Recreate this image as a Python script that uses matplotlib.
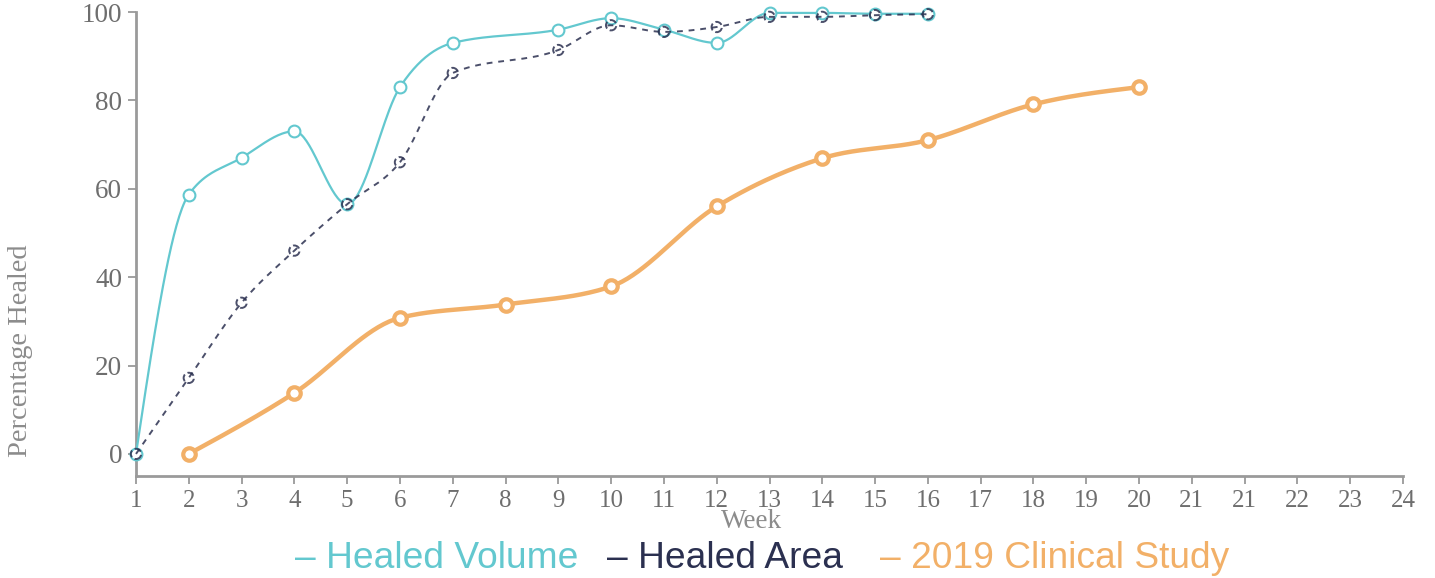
import numpy as np
import matplotlib
matplotlib.use("Agg")
import matplotlib.pyplot as plt

# tick labels along the x axis (the source repeats "21")
week_labels = ["1", "2", "3", "4", "5", "6", "7", "8", "9", "10", "11", "12", "13",
               "14", "15", "16", "17", "18", "19", "20", "21", "21", "22", "23", "24"]

volume_weeks = [1, 2, 3, 4, 5, 6, 7, 9, 10, 11, 12, 13, 14, 15, 16]
volume_vals = [0, 58.7, 67, 73, 56.5, 83, 93, 96, 98.6, 96, 93, 99.8, 99.8, 99.6, 99.6]

area_weeks = [1, 2, 3, 4, 5, 6, 7, 9, 10, 11, 12, 13, 14, 15, 16]
area_vals = [0, 17.2, 34.2, 46, 56.5, 66, 86.2, 91.4, 97, 95.5, 96.6, 98.9, 98.9, 99.3, 99.5]

study_weeks = [2, 4, 6, 8, 10, 12, 14, 16, 18, 20]
study_vals = [0, 13.8, 30.8, 33.8, 37.9, 56, 66.9, 71, 79.1, 83]

TEAL = "#63c8cf"
NAVY = "#2b3050"
ORANGE = "#f2b068"
GREY = "#9a9a9a"


def monotone(x, y, n=40):
    # cubic hermite with monotone slopes (same idea as d3 curveMonotoneX)
    x = np.asarray(x, float)
    y = np.asarray(y, float)
    h = np.diff(x)
    s = np.diff(y) / h
    t = np.zeros(len(x))
    for i in range(1, len(x) - 1):
        p = (s[i - 1] * h[i] + s[i] * h[i - 1]) / (h[i - 1] + h[i])
        t[i] = (np.sign(s[i - 1]) + np.sign(s[i])) * min(abs(s[i - 1]), abs(s[i]), 0.5 * abs(p))
    t[0] = (3 * s[0] - t[1]) / 2
    t[-1] = (3 * s[-1] - t[-2]) / 2
    xs, ys = [], []
    for i in range(len(x) - 1):
        u = np.linspace(0, 1, n)
        h00 = 2 * u**3 - 3 * u**2 + 1
        h10 = u**3 - 2 * u**2 + u
        h01 = -2 * u**3 + 3 * u**2
        h11 = u**3 - u**2
        xs.append(x[i] + u * h[i])
        ys.append(h00 * y[i] + h10 * h[i] * t[i] + h01 * y[i + 1] + h11 * h[i] * t[i + 1])
    return np.concatenate(xs), np.concatenate(ys)


def pos(weeks):
    # week -> slot on the axis (slots 0..24)
    return [w - 1 for w in weeks]


fig = plt.figure(figsize=(14.35, 5.78), dpi=100)
ax = fig.add_axes([136 / 1435, 1 - 476 / 578, (1403 - 136) / 1435, (476 - 12) / 578])

# clinical study
sx, sy = monotone(pos(study_weeks), study_vals)
ax.plot(sx, sy, color=ORANGE, lw=3.2, solid_capstyle="round", clip_on=False, zorder=2)
ax.plot(pos(study_weeks), study_vals, "o", ms=9, mfc="white", mec=ORANGE, mew=3,
        clip_on=False, zorder=3)

# healed volume
vx, vy = monotone(pos(volume_weeks), volume_vals)
ax.plot(vx, vy, color=TEAL, lw=1.6, clip_on=False, zorder=4)
ax.plot(pos(volume_weeks), volume_vals, "o", ms=8.5, mfc="white", mec=TEAL, mew=1.5,
        clip_on=False, zorder=5)

# healed area
ax_, ay_ = monotone(pos(area_weeks), area_vals)
ax.plot(ax_, ay_, color=NAVY, lw=1.4, ls=(0, (3, 3)), clip_on=False, zorder=6, alpha=0.85)
ax.scatter(pos(area_weeks), area_vals, s=55, facecolor="none", edgecolor=NAVY,
           linewidths=1.4, linestyles="--", clip_on=False, zorder=7, alpha=0.85)

ax.set_xlim(0, 24)
ax.set_ylim(-5, 100)
ax.set_xticks(range(len(week_labels)))
ax.set_xticklabels(week_labels)
ax.set_yticks([0, 20, 40, 60, 80, 100])

for side in ["top", "right"]:
    ax.spines[side].set_visible(False)
for side in ["left", "bottom"]:
    ax.spines[side].set_color(GREY)
    ax.spines[side].set_linewidth(2)

ax.tick_params(axis="both", colors=GREY, length=6, width=1.3, labelcolor="#6e6e6e", pad=4)
ax.tick_params(axis="x", labelsize=18)
ax.tick_params(axis="y", labelsize=19.5)
for lab in ax.get_xticklabels() + ax.get_yticklabels():
    lab.set_fontfamily("Liberation Serif")

fig.text(752 / 1435, 1 - 521 / 578, "Week", family="Liberation Serif", fontsize=19.5,
         color="#8c8c8c", ha="center", va="center")
fig.text(21 / 1435, 1 - 351 / 578, "Percentage Healed", family="Liberation Serif",
         fontsize=20.5, color="#8c8c8c", ha="center", va="center", rotation=90)

# legend as coloured text
legend_items = [("\u2013 Healed Volume", TEAL, 295),
                ("\u2013 Healed Area", NAVY, 607),
                ("\u2013 2019 Clinical Study", ORANGE, 880)]
for text, col, xpx in legend_items:
    fig.text(xpx / 1435, 1 - 558 / 578, text, family="Liberation Sans", fontsize=26.7,
             color=col, ha="left", va="center")

fig.savefig("out.png", dpi=100)
